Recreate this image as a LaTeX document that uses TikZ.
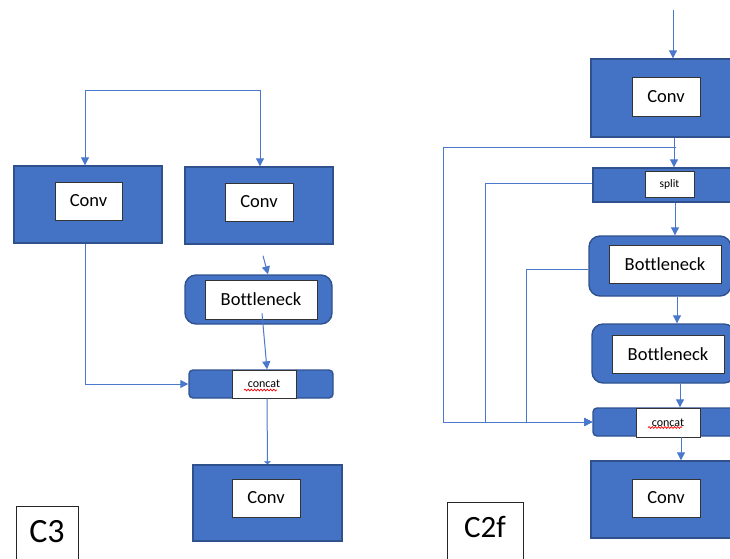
\documentclass[tikz,border=0pt]{standalone}
\usepackage{fontspec}
\setmainfont[Ligatures={NoCommon}]{Carlito}
\usetikzlibrary{arrows.meta,calc,decorations.pathmorphing}
\definecolor{bfill}{HTML}{4472C4}
\definecolor{bedge}{HTML}{2F528F}
\definecolor{cline}{HTML}{4A78CC}
\tikzset{
  outer/.style={draw=bedge, fill=bfill, line width=1.4pt, inner sep=0pt},
  outerround/.style={outer, rounded corners=11pt},
  outerbar/.style={outer, rounded corners=4pt},
  inner/.style={draw=black!80, fill=white, line width=0.9pt, inner sep=0pt, font=\fontsize{18.5}{21}\selectfont},
  smalltxt/.style={font=\fontsize{12}{14}\selectfont},
  lbl/.style={draw=black!85, fill=white, line width=0.9pt, inner sep=0pt, anchor=north west},
  conn/.style={draw=cline, line width=1pt},
  arr/.style={conn, -{Triangle[length=8pt,width=8pt]}},
  squig/.style={draw=red, line width=0.7pt, decorate, decoration={snake, amplitude=0.9pt, segment length=3.2pt}}
}
\begin{document}
\begin{tikzpicture}[x=1pt,y=-1pt]
\useasboundingbox (0,0) rectangle (730,558);
\clip (0,0) rectangle (730,558);
% ---------------- C3 ----------------
\node[outer, minimum width=148, minimum height=77] (lconv) at (88,204.5) {};
\node[inner, minimum width=67, minimum height=38] (lconvi) at (88.5,201) {Conv};
\node[outer, minimum width=148, minimum height=77] (rconv) at (259,205.5) {};
\node[inner, minimum width=68, minimum height=38] (rconvi) at (259,202) {Conv};
\node[outerround, minimum width=147, minimum height=49] (bn) at (258.5,299.5) {};
\node[inner, minimum width=112, minimum height=39] (bni) at (261,299.5) {Bottleneck};
\node[outerbar, minimum width=144, minimum height=28] (cc) at (261,384) {};
\node[inner, minimum width=64, minimum height=28, smalltxt] (cci) at (264,384) {concat};
\node[outer, minimum width=149, minimum height=76] (bconv) at (267.5,503) {};
\node[inner, minimum width=68, minimum height=38] (bconvi) at (266,498) {Conv};
\node[lbl, minimum width=62, minimum height=70] (c3) at (16,506) {};
\node[font=\fontsize{34}{38}\selectfont] (c3t) at (47,532) {C3};

\coordinate (ta) at (85,90);
\coordinate (tb) at (260,90);
\draw[conn, {Triangle[length=8pt,width=8pt]}-{Triangle[length=8pt,width=8pt]}]
  (ta |- lconv.north) -- (ta) -- (tb) -- (tb |- rconv.north);
\draw[arr] ($(rconv.south)+(4,11)$) -- ($(bn.north)+(9.5,0)$);
\draw[arr] ($(bni.south)+(1,-6)$) -- ($(cc.north)+(6,0)$);
\draw[arr] (ta |- lconv.south) |- (cc.west);
\draw[conn, -{Triangle[length=3pt,width=7pt]}] ($(cci.south)+(3,0)$) -- ($(bconv.north)+(0,0)$);
\draw[squig] ($(cci.center)+(-20,6)$) -- ($(cci.center)+(13,6)$);

% ---------------- C2f ----------------
\node[outer, minimum width=154, minimum height=78] (conv2) at (668,98) {};
\node[inner, minimum width=68, minimum height=39] (conv2i) at (666,96.5) {Conv};
\node[outer, minimum width=152, minimum height=34] (split) at (669,185) {};
\node[inner, minimum width=49, minimum height=26, font=\fontsize{11.5}{13}\selectfont] (spliti) at (669.5,184) {split};
\node[outerround, minimum width=142, minimum height=60] (bn1) at (660,266) {};
\node[inner, minimum width=112, minimum height=38] (bn1i) at (665,264) {Bottleneck};
\node[outerround, minimum width=143, minimum height=59] (bn2) at (663.5,353.5) {};
\node[inner, minimum width=112, minimum height=38] (bn2i) at (668,354) {Bottleneck};
\node[outerbar, minimum width=152, minimum height=28] (cc2) at (669,422) {};
\node[inner, minimum width=64, minimum height=29, smalltxt] (cc2i) at (668,422.5) {concat};
\node[outer, minimum width=154, minimum height=77] (conv3) at (668,499.5) {};
\node[inner, minimum width=68, minimum height=38] (conv3i) at (666,498) {Conv};
\node[lbl, minimum width=76, minimum height=70] (c2f) at (447,502) {};
\node[font=\fontsize{31}{34}\selectfont] (c2ft) at (485,527) {C2f};

\coordinate (top2) at (673,10);
\draw[arr] (top2) -- (top2 |- conv2.north);
\draw[arr] ($(conv2.south)+(6,0)$) -- ($(split.north)+(5,0)$);
\coordinate (o1) at (676,147);
\coordinate (o2) at (443,147);
\draw[arr] (o1) -- (o2) |- (cc2.west);
\draw[arr] ($(split.west)+(0,-2)$) -- ++(-107,0) |- (cc2.west);
\draw[arr] ($(bn1.west)+(0,3)$) -- ++(-62,0) |- (cc2.west);
\draw[arr] ($(split.south)+(6,0)$) -- ($(bn1.north)+(15,0)$);
\draw[arr] ($(bn1.south)+(17,0)$) -- ($(bn2.north)+(13.5,0)$);
\draw[arr] ($(bn2.south)+(16.5,0)$) -- ($(cc2.north)+(11,0)$);
\draw[arr] ($(cc2i.south)+(13,0)$) -- ($(conv3.north)+(13,0)$);
\draw[squig] ($(cc2i.center)+(-20,5)$) -- ($(cc2i.center)+(14,5)$);
\end{tikzpicture}
\end{document}
